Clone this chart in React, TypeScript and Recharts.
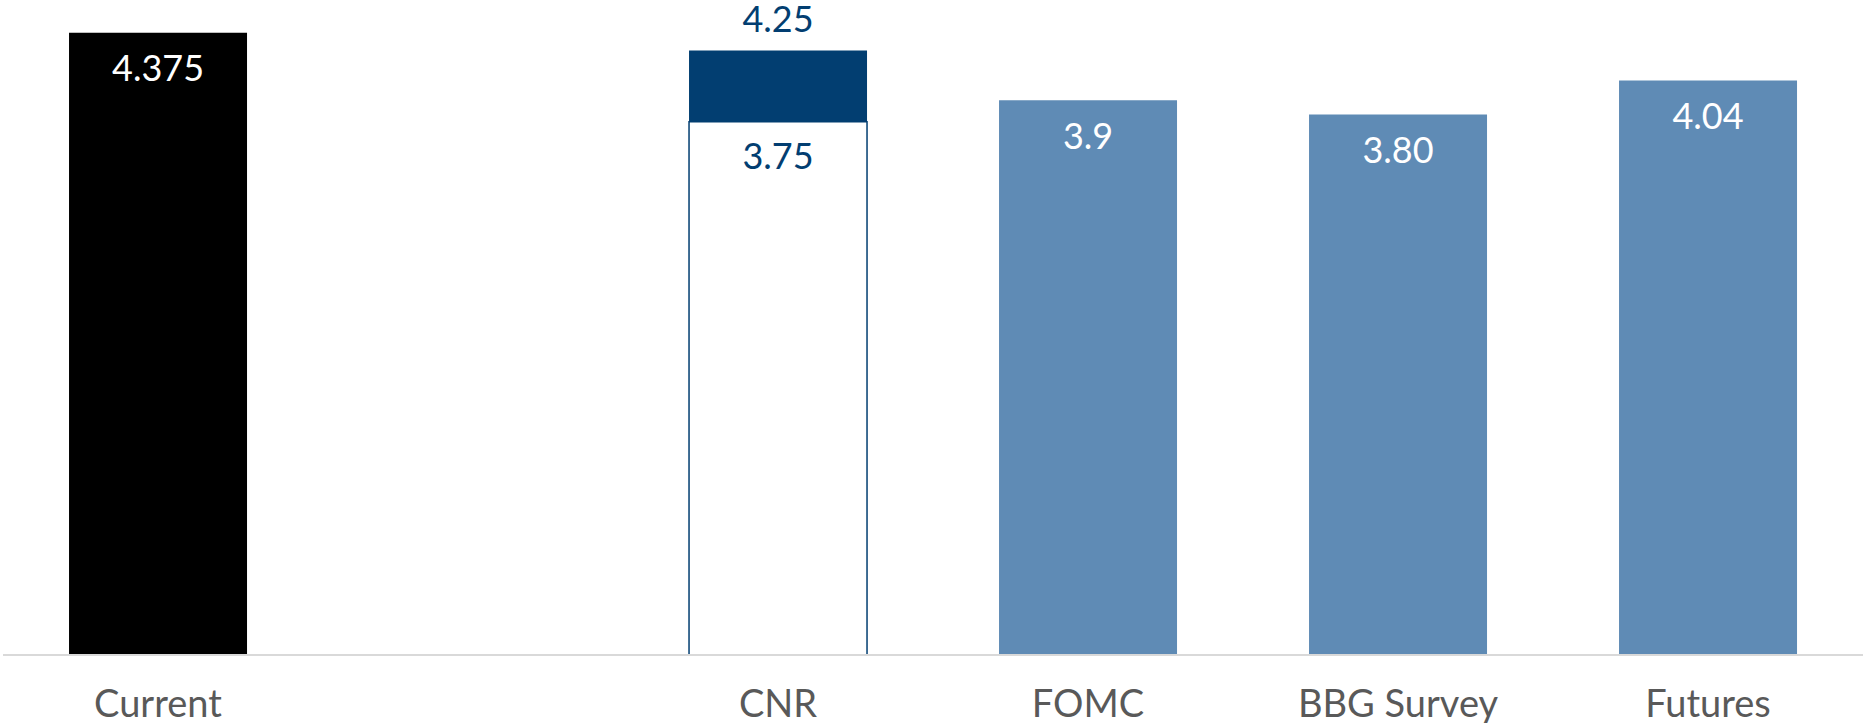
import { BarChart, Bar, XAxis, YAxis, Cell, LabelList } from "recharts";

const categories = ["Current", "", "CNR", "FOMC", "BBG Survey", "Futures"];
const rateValues = [4.375, null, null, 3.9, 3.8, 4.04];
const rateLabels = ["4.375", "", "", "3.9", "3.80", "4.04"];
const cnrLow = [null, null, 3.75, null, null, null];
const cnrHigh = [null, null, 4.25, null, null, null];
const cnrLowLabels = ["", "", "3.75", "", "", ""];
const cnrHighLabels = ["", "", "4.25", "", "", ""];

const NAVY = "#023e71";
const STEEL = "#5f8bb5";
const FONT = "Lato, 'Noto Sans', sans-serif";

const data = categories.map((name, i) => {
  const lo = cnrLow[i];
  const hi = cnrHigh[i];
  return {
    name,
    value: rateValues[i],
    low: lo,
    band: lo != null && hi != null ? hi - lo : null,
    valueText: rateLabels[i],
    lowText: cnrLowLabels[i],
    bandText: cnrHighLabels[i],
  };
});

// label drawn just inside the top of a bar
const insideTop = (color: string, offset: number) => (props: any) => {
  const { x, y, width, value } = props;
  if (!value) return null;
  return (
    <text
      x={x + width / 2}
      y={y + offset}
      dy="0.71em"
      textAnchor="middle"
      fill={color}
      fontSize={36}
      fontFamily={FONT}
    >
      {value}
    </text>
  );
};

const aboveTop = (color: string, offset: number) => (props: any) => {
  const { x, y, width, value } = props;
  if (!value) return null;
  return (
    <text
      x={x + width / 2}
      y={y - offset}
      textAnchor="middle"
      fill={color}
      fontSize={36}
      fontFamily={FONT}
    >
      {value}
    </text>
  );
};

export default function App() {
  return (
    <div style={{ position: "absolute", left: 0, top: 0, background: "#fff", fontFamily: FONT }}>
      <BarChart
        width={1863}
        height={723}
        data={data}
        margin={{ top: 15, right: 0, left: 3, bottom: 0 }}
        barCategoryGap="21.3%"
      >
        <XAxis
          dataKey="name"
          interval={0}
          height={68}
          tickLine={false}
          tickMargin={29}
          axisLine={{ stroke: "#d9d9d9", strokeWidth: 2 }}
          tick={{ fill: "#595959", fontSize: 38, fontFamily: FONT }}
        />
        <YAxis hide domain={[0, 4.5]} />
        <Bar dataKey="value" stackId="a" isAnimationActive={false}>
          {data.map((d, i) => (
            <Cell key={i} fill={i === 0 ? "#000000" : STEEL} />
          ))}
          <LabelList dataKey="valueText" content={insideTop("#ffffff", 23)} />
        </Bar>
        <Bar
          dataKey="low"
          stackId="a"
          fill="#ffffff"
          stroke={NAVY}
          strokeWidth={1.5}
          isAnimationActive={false}
        >
          <LabelList dataKey="lowText" content={insideTop(NAVY, 22)} />
        </Bar>
        <Bar dataKey="band" stackId="a" fill={NAVY} isAnimationActive={false}>
          <LabelList dataKey="bandText" content={aboveTop(NAVY, 19)} />
        </Bar>
      </BarChart>
    </div>
  );
}
